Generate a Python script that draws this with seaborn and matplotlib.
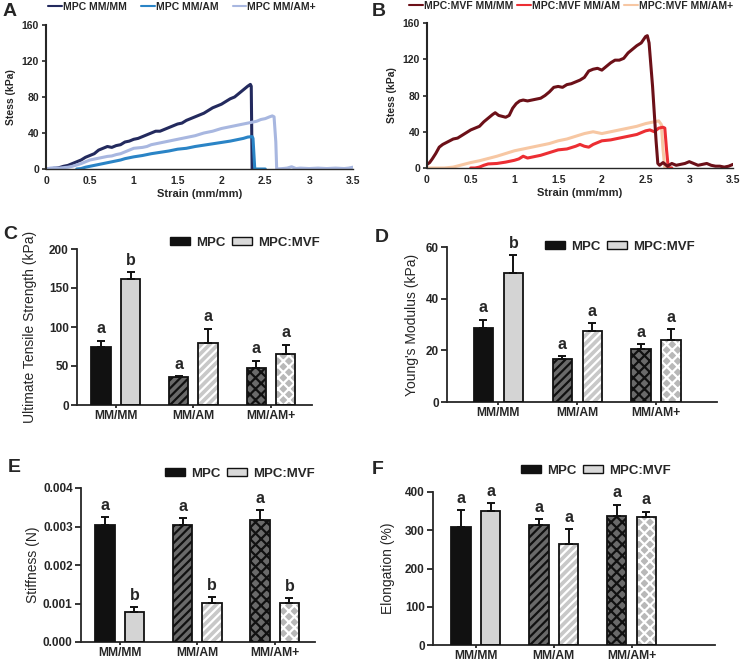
import numpy as np
import pandas as pd
import matplotlib
matplotlib.use('Agg')
import matplotlib.pyplot as plt
import matplotlib.patches as mpatches
from matplotlib.container import BarContainer
from matplotlib.lines import Line2D
from matplotlib.ticker import FuncFormatter
import seaborn as sns

# ---- data: stress-strain curves (strain mm/mm, stress kPa) ----
a_mm_x = [0.00, 0.05, 0.10, 0.15, 0.20, 0.25, 0.30, 0.35, 0.40, 0.45, 0.50, 0.55, 0.60, 0.65, 0.70,
          0.75, 0.80, 0.85, 0.90, 0.95, 1.00, 1.05, 1.10, 1.15, 1.20, 1.25, 1.30, 1.35, 1.40, 1.45,
          1.50, 1.55, 1.60, 1.65, 1.70, 1.75, 1.80, 1.85, 1.90, 1.95, 2.00, 2.05, 2.10, 2.15, 2.20,
          2.25, 2.30, 2.33, 2.34, 2.35, 2.36]
a_mm_y = [0, 0, 1, 1.5, 3, 4, 6, 8, 10, 13, 15, 17, 21, 23, 25,
          24, 26, 27, 30, 31, 33, 34, 36, 38, 40, 42, 42, 44, 46, 48,
          50, 51, 54, 56, 58, 60, 62, 65, 68, 70, 72, 75, 78, 80, 84,
          88, 92, 94, 92, 0, 0]
a_am_x = [0.35, 0.40, 0.45, 0.50, 0.55, 0.60, 0.65, 0.70, 0.75, 0.80, 0.85, 0.90, 0.95, 1.00, 1.10,
          1.20, 1.30, 1.40, 1.50, 1.60, 1.70, 1.80, 1.90, 2.00, 2.10, 2.20, 2.25, 2.30, 2.35, 2.36,
          2.38, 2.50]
a_am_y = [0, 0.5, 2, 3, 4, 5, 6, 7, 8, 9, 10, 11.5, 12.5, 13.5, 15,
          17, 18.5, 20, 22, 23, 25, 26.5, 28, 29.5, 31, 33, 34, 35.5, 36, 34,
          0, 0]
a_amp_x = [0.00, 0.05, 0.10, 0.15, 0.20, 0.25, 0.30, 0.35, 0.40, 0.45, 0.50, 0.55, 0.60, 0.65, 0.70,
           0.75, 0.80, 0.85, 0.90, 0.95, 1.00, 1.05, 1.10, 1.15, 1.20, 1.25, 1.30, 1.40, 1.50, 1.60,
           1.70, 1.80, 1.90, 2.00, 2.10, 2.20, 2.30, 2.35, 2.40, 2.45, 2.50, 2.55, 2.58, 2.60, 2.62,
           2.63, 2.70, 2.75, 2.80, 2.85, 2.90, 3.00, 3.10, 3.20, 3.30, 3.40, 3.45, 3.50]
a_amp_y = [0, 1, 1.5, 1, 1.5, 2, 3, 4.5, 6, 8, 10, 11, 12, 13, 14,
           14.5, 16, 17, 19, 21, 23, 23.5, 24, 25, 27, 28, 29, 31, 33, 35,
           37, 40, 42, 45, 47, 49, 51, 52, 53, 55, 56, 58, 59, 58, 30,
           0, 0.5, 1, 2.5, 0.5, 1, 0.5, 1, 0.5, 1, 0.5, 1, 2]

b_mm_x = [0.00, 0.03, 0.06, 0.10, 0.14, 0.18, 0.22, 0.26, 0.30, 0.35, 0.40, 0.45, 0.50, 0.55, 0.60,
          0.65, 0.70, 0.75, 0.78, 0.82, 0.86, 0.90, 0.94, 0.98, 1.02, 1.06, 1.10, 1.15, 1.20, 1.25,
          1.30, 1.35, 1.40, 1.45, 1.50, 1.55, 1.60, 1.65, 1.70, 1.75, 1.80, 1.85, 1.90, 1.95, 2.00,
          2.05, 2.10, 2.15, 2.20, 2.25, 2.30, 2.35, 2.40, 2.45, 2.50, 2.52, 2.54, 2.58, 2.62, 2.64,
          2.66, 2.70, 2.75, 2.80, 2.85, 2.90, 2.95, 3.00, 3.05, 3.10, 3.15, 3.20, 3.25, 3.30, 3.35,
          3.40, 3.45, 3.50]
b_mm_y = [4, 6, 10, 16, 23, 26, 28, 30, 32, 33, 36, 39, 42, 44, 46,
          51, 55, 59, 61, 58, 57, 56, 58, 66, 71, 74, 75, 74, 75, 76,
          77, 80, 84, 89, 90, 89, 92, 93, 95, 97, 100, 107, 109, 110, 108,
          112, 116, 119, 119, 121, 127, 131, 135, 138, 145, 146, 138, 90, 30, 5,
          3, 6, 2, 5, 3, 4, 5, 7, 5, 3, 4, 5, 3, 2, 2,
          1, 2, 4]
b_am_x = [0.50, 0.55, 0.60, 0.65, 0.70, 0.80, 0.90, 1.00, 1.05, 1.10, 1.15, 1.20, 1.30, 1.40, 1.50,
          1.60, 1.70, 1.75, 1.80, 1.85, 1.90, 2.00, 2.10, 2.20, 2.30, 2.40, 2.50, 2.55, 2.60, 2.65,
          2.70, 2.72, 2.74, 2.76, 2.80]
b_am_y = [0, 0, 1, 3, 4.5, 5, 6.5, 8.5, 10, 13, 11, 12, 14, 17, 20,
          21, 24, 26, 24, 23, 26, 30, 31, 33, 35, 37, 41, 42, 40, 44,
          45, 44, 20, 0, 0]
b_amp_x = [0.00, 0.20, 0.30, 0.40, 0.50, 0.60, 0.70, 0.80, 0.90, 1.00, 1.10, 1.20, 1.30, 1.40, 1.50,
           1.60, 1.70, 1.80, 1.90, 2.00, 2.10, 2.20, 2.30, 2.40, 2.50, 2.60, 2.65, 2.68, 2.70, 2.72,
           2.80]
b_amp_y = [0, 0, 1, 3.5, 6, 8, 10.5, 13, 16, 19, 21, 23, 25, 27, 30,
           32, 35, 38, 40, 38, 40, 42, 44, 46, 49, 51, 52, 48, 20, 0,
           0]

# ---- data: bar panels (mean, SEM) ----
groups = ['MM/MM', 'MM/AM', 'MM/AM+']
cells = ['MPC', 'MPC:MVF']

uts_mpc = [74, 35.5, 47]
uts_mpc_err = [8.5, 2, 10]
uts_mvf = [161.5, 79, 65]
uts_mvf_err = [8.5, 19, 12.5]
uts_letters = [['a', 'a', 'a'], ['b', 'a', 'a']]

ym_mpc = [28.7, 16.6, 20.6]
ym_mpc_err = [3.2, 1.2, 1.7]
ym_mvf = [49.9, 27.3, 23.9]
ym_mvf_err = [7.0, 3.2, 4.2]
ym_letters = [['a', 'a', 'a'], ['b', 'a', 'a']]

st_mpc = [0.00303, 0.00305, 0.00317]
st_mpc_err = [0.00021, 0.00017, 0.00025]
st_mvf = [0.00079, 0.00102, 0.00102]
st_mvf_err = [0.00012, 0.00014, 0.00012]
st_letters = [['a', 'a', 'a'], ['b', 'b', 'b']]

el_mpc = [309, 314, 336]
el_mpc_err = [43, 15, 31]
el_mvf = [350, 264, 334]
el_mvf_err = [22, 38, 15]
el_letters = [['a', 'a', 'a'], ['a', 'a', 'a']]

sns.set_style('ticks')
plt.rcParams['font.family'] = ['Liberation Sans', 'DejaVu Sans']
plt.rcParams['hatch.linewidth'] = 1.6

W, H = 741, 665
fig = plt.figure(figsize=(W / 100, H / 100), dpi=100)


def px_axes(l, t, r, b):
    return fig.add_axes([l / W, 1 - b / H, (r - l) / W, (b - t) / H])


def curve_panel(ax, curves, colors):
    for (xs, ys), c in zip(curves, colors):
        sns.lineplot(x=xs, y=ys, ax=ax, color=c, lw=2.2, sort=False, estimator=None)
    ax.set_xlim(0, 3.5)
    ax.set_ylim(0, 160)
    ax.set_xticks(np.arange(0, 3.51, 0.5))
    ax.set_yticks([0, 40, 80, 120, 160])
    ax.xaxis.set_major_formatter(FuncFormatter(lambda v, p: f'{v:g}'))
    sns.despine(ax=ax)
    ax.spines['left'].set_linewidth(1.5)
    ax.spines['bottom'].set_linewidth(1.0)
    ax.tick_params(axis='y', length=3, width=1.2, labelsize=7.5, pad=2)
    ax.tick_params(axis='x', length=0, labelsize=7.5, pad=5)
    for t in ax.get_xticklabels() + ax.get_yticklabels():
        t.set_fontweight('bold')
    ax.set_xlabel('Strain (mm/mm)', fontsize=8, fontweight='bold', labelpad=2)
    ax.set_ylabel('Stess (kPa)', fontsize=7.5, fontweight='bold', labelpad=4)


def curve_legend(ax, colors, names, xy, spacing):
    handles = [Line2D([], [], color=c, lw=1.5) for c in colors]
    ax.legend(handles, names, ncol=3, frameon=False, loc='center',
              bbox_to_anchor=(xy[0] / W, 1 - xy[1] / H), bbox_transform=fig.transFigure,
              prop={'weight': 'bold', 'size': 7.5}, handlelength=1.3, handletextpad=0.1,
              columnspacing=spacing, borderaxespad=0, borderpad=0)


axA = px_axes(46, 25, 353, 169)
curve_panel(axA, [(a_mm_x, a_mm_y), (a_am_x, a_am_y), (a_amp_x, a_amp_y)],
            ['#232a5e', '#2a84c6', '#a8b7e0'])
curve_legend(axA, ['#232a5e', '#2a84c6', '#a8b7e0'],
             ['MPC MM/MM', 'MPC MM/AM', 'MPC MM/AM+'], (182, 7), 1.4)
axB = px_axes(427, 23, 733, 168)
curve_panel(axB, [(b_amp_x, b_amp_y), (b_am_x, b_am_y), (b_mm_x, b_mm_y)],
            ['#f7c7a3', '#ec2e33', '#6c1018'])
curve_legend(axB, ['#6c1018', '#ec2e33', '#f7c7a3'],
             ['MPC:MVF MM/MM', 'MPC:MVF MM/AM', 'MPC:MVF MM/AM+'], (571, 6), 0.4)

faces = [['#111111', '#6a6a6a', '#6a6a6a'], ['#d4d4d4', '#c8c8c8', '#b8b8b8']]
hatch_cols = [['#111111', '#111111', '#111111'], ['#d4d4d4', 'white', 'white']]
hatches = ['', '////', 'xxx']


def bar_panel(ax, mpc, mpc_err, mvf, mvf_err, letters, ylim, yticks, ylabel, xlim,
              legend_xy, label_x, fmt=None):
    df = pd.DataFrame({'group': groups * 2,
                       'cell': [cells[0]] * 3 + [cells[1]] * 3,
                       'value': mpc + mvf})
    sns.barplot(data=df, x='group', y='value', hue='cell', order=groups, hue_order=cells,
                errorbar=None, width=0.76, gap=0.35, legend=False, ax=ax)
    errs = [mpc_err, mvf_err]
    bars = [c for c in ax.containers if isinstance(c, BarContainer)]
    for h, cont in enumerate(bars):
        for i, p in enumerate(list(cont.patches)):
            p.set_facecolor(faces[h][i])
            p.set_hatch(hatches[i])
            p.set_edgecolor(hatch_cols[h][i])
            p.set_linewidth(0)
            ax.add_patch(mpatches.Rectangle((p.get_x(), p.get_y()), p.get_width(), p.get_height(),
                                            fill=False, ec='#111111', lw=1.3, zorder=3))
            xc = p.get_x() + p.get_width() / 2
            top = p.get_height()
            ax.errorbar(xc, top, yerr=[[0], [errs[h][i]]], fmt='none', ecolor='#111111',
                        elinewidth=1.4, capsize=3, capthick=1.4, zorder=2)
            ax.annotate(letters[h][i], (xc, top + errs[h][i]), xytext=(0, 3),
                        textcoords='offset points', ha='center', va='bottom',
                        fontsize=11.5, fontweight='bold')
    ax.set_ylim(*ylim)
    ax.set_yticks(yticks)
    ax.set_xlim(*xlim)
    if fmt:
        ax.yaxis.set_major_formatter(FuncFormatter(fmt))
    sns.despine(ax=ax)
    ax.spines['left'].set_linewidth(1.3)
    ax.spines['bottom'].set_linewidth(1.3)
    ax.tick_params(axis='y', length=4, width=1.3, labelsize=8.5, pad=2)
    ax.tick_params(axis='x', length=2.2, width=1.3, labelsize=8.7, pad=1.5)
    for t in ax.get_xticklabels() + ax.get_yticklabels():
        t.set_fontweight('bold')
    ax.set_xlabel('')
    ax.set_ylabel(ylabel, fontsize=10)
    ax.yaxis.set_label_coords(label_x, 0.5)
    handles = [mpatches.Patch(facecolor='#111111', edgecolor='#111111', lw=1),
               mpatches.Patch(facecolor='#d9d9d9', edgecolor='#111111', lw=1)]
    ax.legend(handles, cells, ncol=2, frameon=False, loc='center',
              bbox_to_anchor=(legend_xy[0] / W, 1 - legend_xy[1] / H),
              bbox_transform=fig.transFigure, prop={'weight': 'bold', 'size': 9.5},
              handlelength=1.5, handleheight=0.55, handletextpad=0.5, columnspacing=0.5,
              borderaxespad=0, borderpad=0)


axC = px_axes(77, 249, 312, 405)
bar_panel(axC, uts_mpc, uts_mpc_err, uts_mvf, uts_mvf_err, uts_letters, (0, 200),
          [0, 50, 100, 150, 200], 'Ultimate Tensile Strength (kPa)', (-0.5, 2.53), (245, 243),
          -0.17)
axD = px_axes(447, 247, 717, 402)
bar_panel(axD, ym_mpc, ym_mpc_err, ym_mvf, ym_mvf_err, ym_letters, (0, 60),
          [0, 20, 40, 60], "Young's Modulus (kPa)", (-0.65, 2.77), (620, 247), -0.104)
axE = px_axes(81, 488, 315, 642)
bar_panel(axE, st_mpc, st_mpc_err, st_mvf, st_mvf_err, st_letters, (0, 0.004),
          [0, 0.001, 0.002, 0.003, 0.004], 'Stiffness (N)', (-0.5, 2.52), (240, 474), -0.175,
          fmt=lambda v, p: f'{v:.3f}')
axF = px_axes(433, 492, 715, 645)
bar_panel(axF, el_mpc, el_mpc_err, el_mvf, el_mvf_err, el_letters, (0, 400),
          [0, 100, 200, 300, 400], 'Elongation (%)', (-0.55, 3.07), (596, 471), -0.135)

for lab, (x, y) in zip('ABCDEF', [(10, 12), (379, 11), (10, 235), (382, 237), (14, 468), (378, 470)]):
    fig.text(x / W, 1 - y / H, lab, fontsize=14, fontweight='bold', ha='center', va='center')

fig.savefig('out.png', dpi=100)
